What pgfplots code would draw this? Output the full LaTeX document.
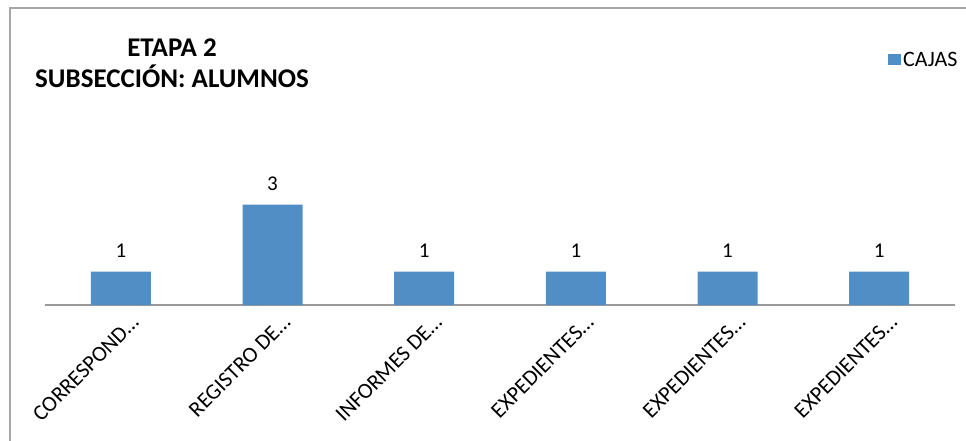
\documentclass[border=0pt]{standalone}
\usepackage{pgfplots}
\pgfplotsset{compat=1.18}
\usepackage{fontspec}
\setmainfont{Carlito}
\definecolor{barblue}{RGB}{82,142,198}
\begin{document}
\begin{tikzpicture}[x=1pt,y=1pt]
\useasboundingbox (0,0) rectangle (966,440);
\draw[gray!70, line width=1.5pt] (10,-5) -- (10,432) -- (975,432);
\node[font=\fontsize{27}{31}\selectfont\bfseries, align=center] at (172,377) {ETAPA 2\\SUBSECCIÓN: ALUMNOS};
\begin{axis}[
  at={(45pt,135pt)}, anchor=south west,
  scale only axis, width=910pt, height=134pt,
  xmin=-0.5, xmax=5.5, ymin=0, ymax=4,
  /pgf/number format/assume math mode=true,
  axis line style={draw=none},
  ytick=\empty,
  xtick={0,1,2,3,4,5},
  xticklabels={{CORRESPOND\ldots},{REGISTRO DE\ldots},{INFORMES DE\ldots},{EXPEDIENTES\ldots},{EXPEDIENTES\ldots},{EXPEDIENTES\ldots}},
  major tick length=0pt,
  xticklabel style={xshift=9pt, yshift=-7pt, rotate=45, anchor=north east, inner sep=1pt, font=\fontsize{22}{26}\selectfont},
  clip=false,
  ybar, bar width=60pt,
  nodes near coords,
  every node near coord/.append style={font=\fontsize{21}{25}\selectfont, yshift=10pt},
  legend style={draw=none, at={(1.005,1.83)}, anchor=east, font=\fontsize{22}{26}\selectfont, inner sep=0pt},
  legend image code/.code={\fill[barblue] (0pt,-5.5pt) rectangle (13pt,5.5pt);},
]
\draw[gray!80, line width=1.5pt] (rel axis cs:0,0) -- (rel axis cs:1,0);
\addplot[fill=barblue, draw=none] coordinates {(0,1) (1,3) (2,1) (3,1) (4,1) (5,1)};
\addlegendentry{CAJAS}
\end{axis}
\end{tikzpicture}
\end{document}
